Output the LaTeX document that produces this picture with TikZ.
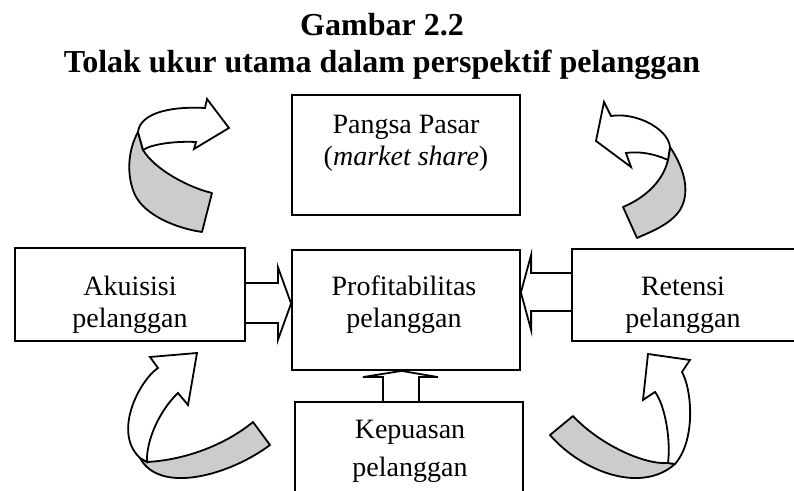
\documentclass[tikz,border=0pt]{standalone}
\usepackage{fontspec}
\setmainfont{Liberation Serif}
\usetikzlibrary{calc}

\tikzset{
  judul/.style={align=center, inner sep=0pt, anchor=north, font=\fontsize{16}{18.5}\selectfont\bfseries},
  kotak/.style={draw, line width=0.9pt, inner sep=0pt},
  teks/.style={align=center, inner sep=0pt, anchor=north, font=\fontsize{14}{16}\selectfont},
  panah/.style={draw, line width=0.9pt, line join=miter},
  pita/.style={draw, line width=0.9pt, fill=gray!40, line join=round},
  muka/.style={draw, line width=0.9pt, fill=white, line join=miter},
}

\begin{document}
\begin{tikzpicture}[x=0.5pt,y=-0.5pt]
  \useasboundingbox (0,0) rectangle (794,491);
  \clip (0,0) rectangle (794,491);

  \node[judul] (judul) at (382,9) {\strut Gambar 2.2\\\strut Tolak ukur utama dalam perspektif pelanggan};

  % kotak
  \node[kotak, minimum width=114pt, minimum height=60pt] (pangsa) at (406,155) {};
  \node[kotak, minimum width=115pt, minimum height=46.5pt] (akuisisi) at (130,294.5) {};
  \node[kotak, minimum width=114pt, minimum height=60pt] (profit) at (406,310) {};
  \node[kotak, minimum width=114pt, minimum height=46pt] (retensi) at (686,295) {};
  \node[kotak, minimum width=114pt, minimum height=60pt] (kepuasan) at (409,462) {};

  % teks
  \node[teks] (tpangsa) at (406,110.6) {\strut Pangsa Pasar\\\strut (\textit{market share})};
  \node[teks] (takuisisi) at (130,272.6) {\strut Akuisisi\\\strut pelanggan};
  \node[teks] (tprofit) at (404,272.6) {\strut Profitabilitas\\\strut pelanggan};
  \node[teks] (tretensi) at (683,272.6) {\strut Retensi\\\strut pelanggan};
  \node[teks] (tkepuasan) at (410,415.6) {\strut Kepuasan\\[3pt]\strut pelanggan};

  % panah blok
  \draw[panah] ($(akuisisi.east)+(0,-11.5)$) -- ++(32,0) -- ++(0,-16) -- ($(profit.west)+(0,-6.5)$) -- ($(akuisisi.east)+(32,45.5)$) -- ++(0,-17) -- ($(akuisisi.east)+(0,28.5)$);
  \draw[panah] ($(retensi.west)+(0,-22)$) -- ++(-40,0) -- ++(0,-18) -- ($(profit.east)+(0,-17.5)$) -- ($(retensi.west)+(-40,35)$) -- ++(0,-19) -- ($(retensi.west)+(0,16)$);
  \draw[panah] ($(kepuasan.north)+(-26,0)$) -- ++(0,-24) -- ++(-20,0) -- ($(profit.south)+(-4.5,0)$) -- ($(kepuasan.north)+(29,-24)$) -- ++(-19,0) -- ($(kepuasan.north)+(10,0)$);

  % panah lengkung kiri atas
  \draw[pita] (138,132) .. controls (128,150) and (126,175) .. (135,195) .. controls (145,215) and (175,228) .. (202,232) -- (212,193) .. controls (190,188) and (155,170) .. (143,150) -- cycle;
  \draw[muka] (138,132) .. controls (140,115) and (165,106) .. (205,108) -- (207,99) -- (229,128) -- (194,149) -- (196,142) .. controls (175,141) and (152,144) .. (143,150) -- cycle;

  % panah lengkung kanan atas
  \draw[pita] (670,147) .. controls (682,165) and (692,190) .. (680,210) .. controls (670,225) and (650,232) .. (637,238) -- (623,207) .. controls (640,200) and (662,185) .. (668,160) -- cycle;
  \draw[muka] (596,141) -- (604,102) -- (611,116) .. controls (635,112) and (668,128) .. (670,147) -- (668,160) .. controls (655,154) and (640,151) .. (626,153) -- (631,167) -- cycle;

  % panah lengkung kiri bawah
  \draw[pita] (140,458) -- (147,462) .. controls (185,460) and (225,445) .. (253,422) -- (270,445) .. controls (230,475) and (160,495) .. (140,458) -- cycle;
  \draw[muka] (197,353) -- (150,357) -- (158,368) .. controls (140,380) and (112,432) .. (140,458) -- (147,462) .. controls (146,440) and (160,410) .. (178,393) -- (188,405) -- cycle;

  % panah lengkung kanan bawah
  \draw[pita] (668,463) .. controls (645,465) and (600,445) .. (573,416) -- (550,435) .. controls (580,470) and (640,495) .. (675,464) -- cycle;
  \draw[muka] (648,354) -- (690,360) -- (682,372) .. controls (692,390) and (696,440) .. (675,464) -- (668,463) .. controls (671,440) and (665,405) .. (655,392) -- (643,400) -- cycle;
\end{tikzpicture}
\end{document}
